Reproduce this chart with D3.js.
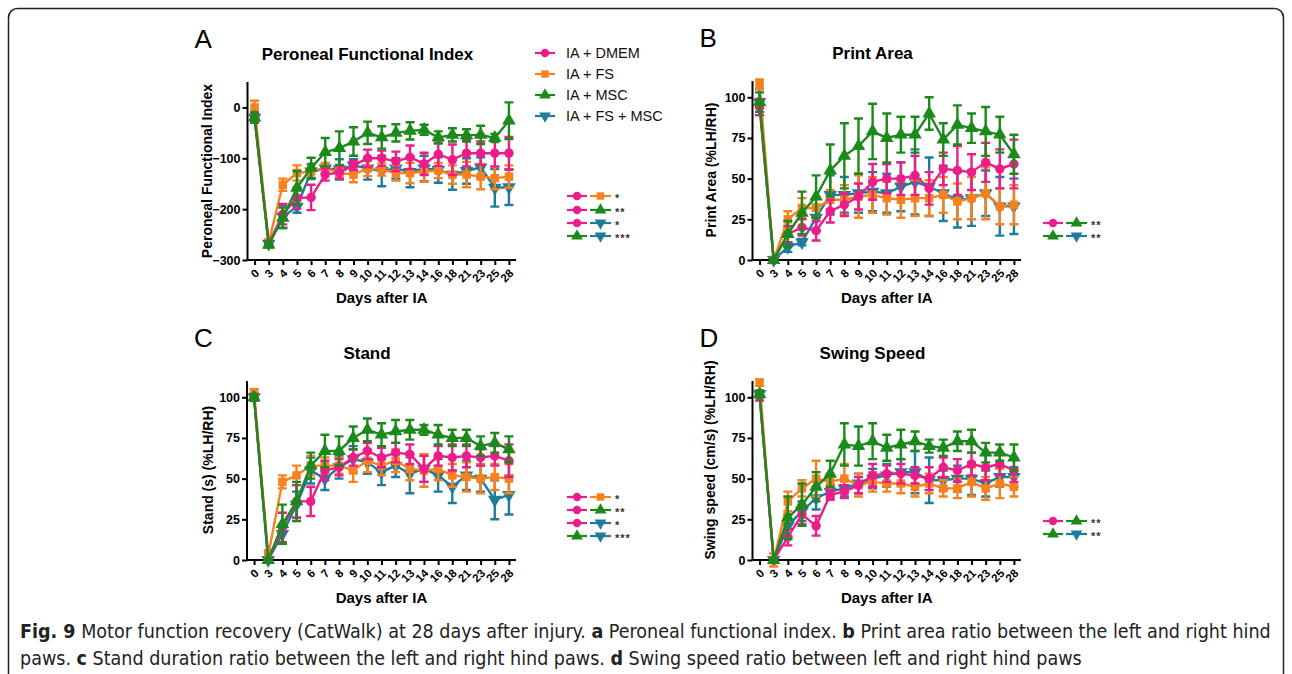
<!DOCTYPE html>
<html>
<head>
<meta charset="utf-8">
<script src="https://cdn.jsdelivr.net/npm/d3@7"></script>
<style>
	body { margin: 0; background: #fff; }
	svg text { font-family: "Liberation Sans", Arial, Helvetica, sans-serif; }
	.caption text { font-family: "DejaVu Sans Condensed", "Liberation Sans Narrow", "Liberation Sans", sans-serif; }
</style>
</head>
<body>
<svg id="fig" width="1292" height="674"></svg>
<script>
/*
** Motor function recovery (CatWalk), four panels with error bars.
*/

var days = ["0", "3", "4", "5", "6", "7", "8", "9", "10", "11", "12", "13", "14", "16", "18", "21", "23", "25", "28"];
var groups = ["IA + DMEM", "IA + FS", "IA + MSC", "IA + FS + MSC"];
var colors = ["#EC1D8B", "#F5821F", "#1B8A1B", "#1F7B9B"];

// A - peroneal functional index
var pfiDmem     = [-18, -268, -210, -178, -177, -132, -128, -114, -100, -100, -106, -98, -111, -92, -103, -90, -90, -90, -90];
var pfiDmemErr  = [8, 5, 20, 21, 25, 12, 12, 9, 17, 15, 19, 23, 22, 23, 30, 26, 23, 26, 32];
var pfiFs       = [0, -265, -152, -129, -126, -119, -129, -132, -120, -122, -129, -129, -126, -124, -132, -132, -136, -139, -136];
var pfiFsErr    = [13, 6, 12, 15, 12, 10, 10, 15, 15, 12, 15, 20, 20, 15, 18, 25, 25, 22, 22];
var pfiMsc      = [-20, -270, -217, -158, -119, -88, -80, -67, -50, -59, -50, -46, -44, -59, -54, -55, -54, -60, -26];
var pfiMscErr   = [10, 5, 20, 33, 20, 28, 33, 28, 22, 22, 17, 17, 10, 12, 13, 12, 18, 8, 36];
var pfiFsMsc    = [-20, -268, -215, -195, -126, -120, -122, -114, -120, -125, -120, -127, -120, -123, -132, -125, -118, -158, -157];
var pfiFsMscErr = [8, 5, 22, 12, 15, 10, 20, 12, 22, 30, 20, 30, 25, 25, 30, 25, 20, 37, 35];

// B - print area
var paDmem     = [94, 0, 16, 20, 18, 30, 34, 39, 48, 50, 50, 52, 44, 56, 55, 54, 60, 56, 59];
var paDmemErr  = [5, 1, 5, 5, 6, 7, 7, 8, 11, 9, 10, 12, 10, 10, 15, 11, 12, 12, 15];
var paFs       = [108, 0, 25, 32, 32, 37, 37, 39, 40, 38, 37, 38, 38, 40, 36, 38, 41, 33, 34];
var paFsErr    = [3, 1, 5, 6, 6, 6, 9, 13, 11, 10, 11, 11, 11, 11, 11, 13, 16, 11, 12];
var paMsc      = [97, 0, 16, 29, 39, 55, 64, 70, 79, 75, 77, 77, 90, 74, 83, 81, 79, 77, 65];
var paMscErr   = [6, 1, 8, 13, 13, 16, 20, 17, 17, 15, 11, 11, 10, 10, 12, 9, 15, 11, 12];
var paFsMsc    = [97, 0, 8, 11, 26, 40, 40, 41, 42, 41, 45, 48, 45, 41, 37, 38, 41, 33, 33];
var paFsMscErr = [8, 1, 3, 2, 8, 12, 11, 12, 12, 12, 15, 20, 18, 17, 17, 17, 14, 18, 17];

// C - stand
var stDmem     = [100, 0, 20, 36, 36, 55, 57, 63, 67, 63, 66, 65, 56, 64, 63, 64, 63, 64, 61];
var stDmemErr  = [2, 1, 9, 10, 9, 6, 5, 5, 5, 6, 6, 6, 8, 6, 8, 7, 5, 6, 10];
var stFs       = [103, 3, 48, 52, 58, 58, 58, 55, 61, 58, 61, 56, 55, 56, 52, 51, 50, 51, 50];
var stFsErr    = [2, 3, 4, 6, 6, 5, 5, 7, 7, 6, 7, 7, 10, 7, 7, 9, 9, 8, 9];
var stMsc      = [100, 0, 22, 36, 58, 67, 67, 75, 80, 77, 79, 80, 80, 77, 75, 75, 70, 72, 68];
var stMscErr   = [2, 1, 12, 12, 8, 10, 9, 7, 7, 7, 7, 6, 3, 6, 5, 5, 6, 6, 8];
var stFsMsc    = [100, 0, 16, 34, 55, 50, 57, 62, 60, 54, 58, 53, 56, 52, 45, 52, 50, 37, 40];
var stFsMscErr = [2, 1, 6, 8, 8, 7, 7, 8, 7, 8, 7, 12, 8, 10, 10, 9, 8, 12, 12];

// D - swing speed
var ssDmem     = [101, 0, 14, 28, 21, 40, 42, 46, 52, 53, 53, 52, 50, 57, 55, 59, 57, 59, 55];
var ssDmemErr  = [3, 1, 5, 6, 6, 3, 4, 5, 7, 5, 6, 5, 7, 6, 7, 7, 8, 7, 7];
var ssFs       = [109, 0, 36, 44, 50, 48, 50, 46, 48, 47, 47, 45, 47, 44, 44, 48, 44, 47, 45];
var ssFsErr    = [2, 4, 6, 5, 11, 5, 9, 7, 6, 5, 6, 6, 6, 5, 6, 9, 7, 9, 6];
var ssMsc      = [102, 0, 26, 34, 45, 53, 71, 70, 73, 69, 71, 73, 70, 69, 73, 73, 66, 66, 63];
var ssMscErr   = [2, 1, 13, 13, 9, 8, 13, 12, 11, 8, 9, 6, 4, 5, 6, 7, 6, 5, 8];
var ssFsMsc    = [102, 0, 21, 30, 38, 42, 44, 47, 50, 52, 54, 54, 49, 49, 50, 50, 47, 51, 51];
var ssFsMscErr = [2, 1, 7, 6, 7, 4, 5, 6, 6, 7, 8, 13, 14, 6, 8, 10, 8, 6, 6];

// significance rows: [group, group, stars]
var sigFour = [[0, 1, "*"], [0, 2, "**"], [0, 3, "*"], [2, 3, "***"]];
var sigTwo = [[0, 2, "**"], [2, 3, "**"]];

var ticksPfi = [0, -100, -200, -300];
var ticksPct = [0, 25, 50, 75, 100];

var svg = d3.select("#fig");

var panels = [
	{letter: "A", title: "Peroneal Functional Index", yLabel: "Peroneal Functional Index",
		x0: 247.5, x1: 516, y0: 82, y1: 260, domain: [-300, 50], ticks: ticksPfi, labelX: 207, labelY: 171,
		means: [pfiDmem, pfiFs, pfiMsc, pfiFsMsc], errs: [pfiDmemErr, pfiFsErr, pfiMscErr, pfiFsMscErr],
		sig: sigFour, sigX: 567, sigY: [196, 210, 223, 236], legend: true},
	{letter: "B", title: "Print Area", yLabel: "Print Area (%LH/RH)",
		x0: 752.5, x1: 1021, y0: 81, y1: 260, domain: [0, 110], ticks: ticksPct, labelX: 711.5, labelY: 170,
		means: [paDmem, paFs, paMsc, paFsMsc], errs: [paDmemErr, paFsErr, paMscErr, paFsMscErr],
		sig: sigTwo, sigX: 1043, sigY: [223, 236]},
	{letter: "C", title: "Stand", yLabel: "Stand (s) (%LH/RH)",
		x0: 247, x1: 516, y0: 381, y1: 560, domain: [0, 110], ticks: ticksPct, labelX: 208.5, labelY: 470,
		means: [stDmem, stFs, stMsc, stFsMsc], errs: [stDmemErr, stFsErr, stMscErr, stFsMscErr],
		sig: sigFour, sigX: 567, sigY: [497, 510, 523, 536]},
	{letter: "D", title: "Swing Speed", yLabel: "Swing speed (cm/s) (%LH/RH)",
		x0: 752.5, x1: 1021, y0: 381, y1: 560, domain: [0, 110], ticks: ticksPct, labelX: 710, labelY: 460,
		means: [ssDmem, ssFs, ssMsc, ssFsMsc], errs: [ssDmemErr, ssFsErr, ssMscErr, ssFsMscErr],
		sig: sigTwo, sigX: 1043, sigY: [521, 534]}
];

// draw order: teal, orange, pink, green on top
var drawOrder = [3, 1, 0, 2];

/*
** Returns the marker path for a group.
*/
function marker(g, size) {
	var type = [d3.symbolCircle, d3.symbolSquare, d3.symbolTriangle, d3.symbolTriangle][g];
	var s = size || [70, 72, 80, 80][g];
	return d3.symbol().type(type).size(s)();
}

function addMarker(sel, g, x, y, size) {
	sel.append("path")
		.attr("d", marker(g, size))
		.attr("fill", colors[g])
		.attr("transform", "translate(" + x + "," + y + ")" + (g == 3 ? " rotate(180)" : ""));
}

/*
** Draws one small legend line with its marker.
*/
function legendLine(sel, g, xa, xb, y) {
	sel.append("line")
		.attr("x1", xa).attr("x2", xb).attr("y1", y).attr("y2", y)
		.attr("stroke", colors[g]).attr("stroke-width", 2.2);
	addMarker(sel, g, (xa + xb) / 2, y, [55, 55, 60, 60][g]);
}

function drawPanel(p) {
	var g = svg.append("g");

	var x = d3.scalePoint().domain(days).range([p.x0, p.x1]).padding(0.5);
	var y = d3.scaleLinear().domain(p.domain).range([p.y1, p.y0]);

	// axes
	var xAxis = g.append("g")
		.attr("transform", "translate(0," + p.y1 + ")")
		.call(d3.axisBottom(x).tickSize(5).tickSizeOuter(0));
	xAxis.select(".domain").attr("d", "M" + p.x0 + ",0H" + p.x1);
	xAxis.selectAll("text")
		.attr("font-size", 11.5).attr("font-weight", "bold").attr("fill", "#000")
		.attr("text-anchor", "end")
		.attr("x", 0).attr("y", 0).attr("dy", "0.35em")
		.attr("transform", "translate(2,11) rotate(-45)");

	var yAxis = g.append("g")
		.attr("transform", "translate(" + p.x0 + ",0)")
		.call(d3.axisLeft(y).tickValues(p.ticks).tickSize(5).tickSizeOuter(0));
	yAxis.select(".domain").attr("d", "M0," + p.y0 + "V" + p.y1);
	yAxis.selectAll("text")
		.attr("font-size", 12.5).attr("font-weight", "bold").attr("fill", "#000")
		.attr("x", -7);

	g.selectAll(".domain, .tick line").attr("stroke", "#000").attr("stroke-width", 2);

	// texts
	g.append("text").attr("x", p.x0 - 53).attr("y", p.y0 - 34)
		.attr("font-size", 26).text(p.letter);
	g.append("text").attr("x", p.x0 + 120).attr("y", p.y0 - 22)
		.attr("text-anchor", "middle").attr("font-size", 17).attr("font-weight", "bold")
		.text(p.title);
	g.append("text").attr("x", (p.x0 + p.x1) / 2).attr("y", p.y1 + 43)
		.attr("text-anchor", "middle").attr("font-size", 15).attr("font-weight", "bold")
		.text("Days after IA");
	g.append("text")
		.attr("transform", "translate(" + p.labelX + "," + p.labelY + ") rotate(-90)")
		.attr("text-anchor", "middle").attr("dy", "0.35em")
		.attr("font-size", 14).attr("font-weight", "bold")
		.text(p.yLabel);

	// series
	var line = d3.line()
		.x(function(d, i) { return x(days[i]); })
		.y(function(d) { return y(d); });

	drawOrder.forEach(function(k) {
		var s = g.append("g");
		var mean = p.means[k], err = p.errs[k];

		s.append("path")
			.attr("d", line(mean))
			.attr("fill", "none").attr("stroke", colors[k]).attr("stroke-width", 2.4);

		mean.forEach(function(m, i) {
			var cx = x(days[i]);
			var top = y(m + err[i]), bot = y(m - err[i]);
			s.append("path")
				.attr("d", "M" + cx + "," + top + "V" + bot +
					"M" + (cx - 4.5) + "," + top + "H" + (cx + 4.5) +
					"M" + (cx - 4.5) + "," + bot + "H" + (cx + 4.5))
				.attr("fill", "none").attr("stroke", colors[k]).attr("stroke-width", 2.4);
			addMarker(s, k, cx, y(m));
		});
	});

	// significance legend
	p.sig.forEach(function(r, i) {
		var yy = p.sigY[i];
		legendLine(g, r[0], p.sigX, p.sigX + 20, yy);
		legendLine(g, r[1], p.sigX + 23, p.sigX + 44, yy);
		g.append("text").attr("x", p.sigX + 48).attr("y", yy + 6)
			.attr("font-family", "DejaVu Sans").attr("font-size", 11)
			.attr("font-weight", "bold").attr("letter-spacing", 1).attr("fill", "#333")
			.text(r[2]);
	});

	// group legend
	if (p.legend) {
		groups.forEach(function(name, i) {
			var yy = 53 + i * 21;
			legendLine(g, i, 535, 555, yy);
			g.append("text").attr("x", 566).attr("y", yy).attr("dy", "0.36em")
				.attr("font-size", 14.5).attr("fill", "#111").text(name);
		});
	}
}

panels.forEach(drawPanel);

// frame
svg.append("rect")
	.attr("x", 8.5).attr("y", 8.5).attr("width", 1275).attr("height", 720)
	.attr("rx", 9).attr("fill", "none").attr("stroke", "#222").attr("stroke-width", 1.5);

/*
** Caption, two lines with bold panel letters.
*/
var capLines = [
	[["Fig. 9", 1], [" Motor function recovery (CatWalk) at 28 days after injury. ", 0], ["a", 1],
	 [" Peroneal functional index. ", 0], ["b", 1], [" Print area ratio between the left and right hind", 0]],
	[["paws. ", 0], ["c", 1], [" Stand duration ratio between the left and right hind paws. ", 0], ["d", 1],
	 [" Swing speed ratio between left and right hind paws", 0]]
];
var capLeft = 20, firstWidth = 1252;

var cap = svg.append("g").attr("class", "caption");

function captionLine(parts, size, y) {
	var t = cap.append("text").attr("x", capLeft).attr("y", y)
		.attr("font-size", size).attr("fill", "#222")
		.attr("xml:space", "preserve").style("white-space", "pre");
	parts.forEach(function(p) {
		t.append("tspan").attr("font-weight", p[1] ? "bold" : "normal").text(p[0]);
	});
	return t.node().getComputedTextLength();
}

// font size from the width of the first line
var probe = captionLine(capLines[0], 17, -100);
cap.selectAll("text").remove();
var capSize = Math.max(14, Math.min(20, 17 * firstWidth / probe));
captionLine(capLines[0], capSize, 638);
captionLine(capLines[1], capSize, 665);
</script>
</body>
</html>
